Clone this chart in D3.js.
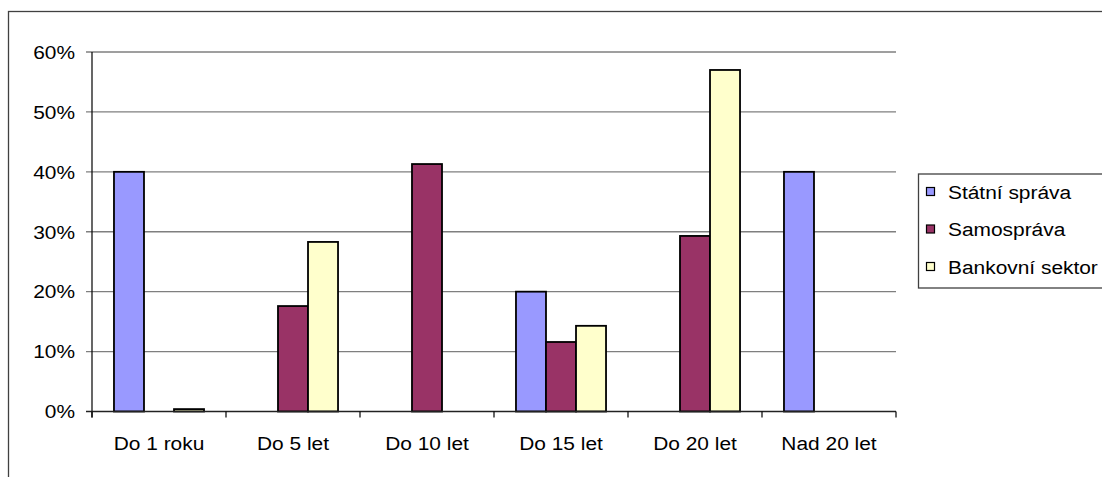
<!DOCTYPE html>
<html>
<head>
<meta charset="utf-8">
<script src="https://cdn.jsdelivr.net/npm/d3@7"></script>
<style>
  html, body { margin: 0; padding: 0; background: #fff; }
  svg { display: block; }
  text { font-family: "Liberation Sans", Arial, sans-serif; fill: #000; }
</style>
</head>
<body>
<svg id="chart" width="1102" height="477"></svg>
<script>
// Categories (maturity buckets) and series shares
const categories = ["Do 1 roku", "Do 5 let", "Do 10 let", "Do 15 let", "Do 20 let", "Nad 20 let"];
const seriesNames = ["Státní správa", "Samospráva", "Bankovní sektor"];
const statniSprava = [0.40, 0, 0, 0.20, 0, 0.40];
const samosprava = [0, 0.176, 0.413, 0.116, 0.293, 0];
const bankovniSektor = [0.004, 0.283, 0, 0.143, 0.57, 0];
const yTicks = [0, 0.1, 0.2, 0.3, 0.4, 0.5, 0.6];
const colors = ["#9999FF", "#993366", "#FFFFCC"];

const seriesValues = [statniSprava, samosprava, bankovniSektor];
const rows = categories.map((c, i) => ({
  category: c,
  values: seriesNames.map((s, j) => ({ series: s, idx: j, value: seriesValues[j][i] }))
}));

const svg = d3.select("#chart");
const fontSize = 19;
const stretch = 1.1;

// outer chart frame
svg.append("rect")
  .attr("x", 8.5).attr("y", 11.5)
  .attr("width", 1110).attr("height", 490)
  .attr("fill", "none").attr("stroke", "#404040").attr("stroke-width", 1.3);

const plot = { left: 92, right: 896, top: 52, bottom: 411.5 };
const pad = 0.328;

const x0 = d3.scaleBand()
  .domain(categories)
  .range([plot.left, plot.right])
  .paddingInner(pad)
  .paddingOuter(pad / 2);

const x1 = d3.scaleBand()
  .domain(seriesNames)
  .range([0, x0.bandwidth()]);

const y = d3.scaleLinear().domain([0, 0.6]).range([plot.bottom, plot.top]);

// horizontal gridlines with tick stubs on the left
svg.append("g")
  .selectAll("line")
  .data(yTicks.filter(t => t > 0))
  .join("line")
  .attr("x1", plot.left - 6).attr("x2", plot.right)
  .attr("y1", d => y(d)).attr("y2", d => y(d))
  .attr("stroke", "#7f7f7f").attr("stroke-width", 1.3);

// y tick labels
const fmt = d3.format(".0%");
svg.append("g")
  .selectAll("text")
  .data(yTicks)
  .join("text")
  .attr("transform", d => `translate(75,${y(d) + 6.8}) scale(${stretch},1)`)
  .attr("text-anchor", "end")
  .attr("font-size", fontSize)
  .text(d => fmt(d));

// bars
const groups = svg.append("g")
  .selectAll("g")
  .data(rows)
  .join("g")
  .attr("transform", d => `translate(${x0(d.category)},0)`);

groups.selectAll("rect")
  .data(d => d.values.filter(v => v.value > 0))
  .join("rect")
  .attr("x", d => x1(d.series))
  .attr("width", x1.bandwidth())
  .attr("y", d => y(d.value))
  .attr("height", d => y(0) - y(d.value))
  .attr("fill", d => colors[d.idx])
  .attr("stroke", "#000")
  .attr("stroke-width", 1.8);

// axes lines
svg.append("line")
  .attr("x1", plot.left).attr("x2", plot.left)
  .attr("y1", plot.top).attr("y2", plot.bottom + 6)
  .attr("stroke", "#000").attr("stroke-width", 1.2);
svg.append("line")
  .attr("x1", plot.left - 6).attr("x2", plot.right)
  .attr("y1", plot.bottom).attr("y2", plot.bottom)
  .attr("stroke", "#222").attr("stroke-width", 1.3);

// x tick marks at category boundaries
const step = x0.step();
const boundaries = categories.map(c => x0(c) - step * pad / 2).concat([plot.right]);
svg.append("g")
  .selectAll("line")
  .data(boundaries)
  .join("line")
  .attr("x1", d => d).attr("x2", d => d)
  .attr("y1", plot.bottom).attr("y2", plot.bottom + 6)
  .attr("stroke", "#000").attr("stroke-width", 1.2);

// category labels
svg.append("g")
  .selectAll("text")
  .data(categories)
  .join("text")
  .attr("transform", d => `translate(${x0(d) + x0.bandwidth() / 2},450) scale(${stretch},1)`)
  .attr("text-anchor", "middle")
  .attr("font-size", fontSize)
  .text(d => d);

// legend
const legend = svg.append("g");
legend.append("rect")
  .attr("x", 918.5).attr("y", 174)
  .attr("width", 200).attr("height", 114)
  .attr("fill", "#fff").attr("stroke", "#404040").attr("stroke-width", 1.3);

const items = legend.selectAll("g.item")
  .data(seriesNames)
  .join("g")
  .attr("class", "item")
  .attr("transform", (d, i) => `translate(0,${192 + i * 37.5})`);

items.append("rect")
  .attr("x", 926.5).attr("y", -4.5)
  .attr("width", 8).attr("height", 8)
  .attr("fill", (d, i) => colors[i])
  .attr("stroke", "#000").attr("stroke-width", 1.2);

items.append("text")
  .attr("transform", `translate(948,6.8) scale(${stretch},1)`)
  .attr("font-size", fontSize)
  .text(d => d);
</script>
</body>
</html>
